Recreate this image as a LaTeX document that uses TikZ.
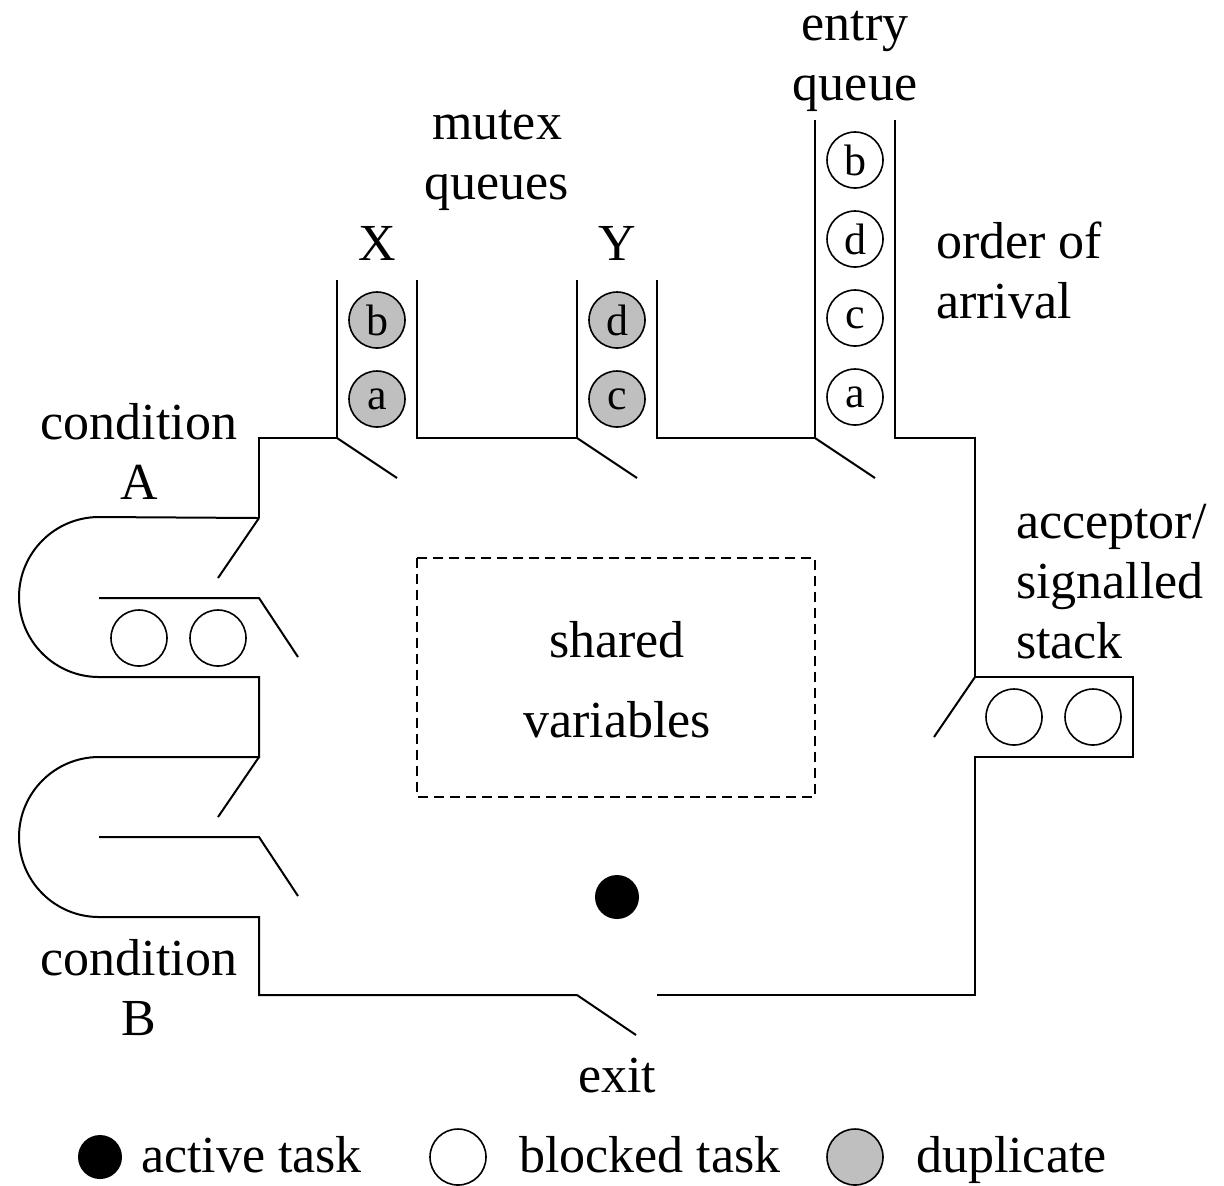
\documentclass[tikz,border=0pt]{standalone}
\usepackage{fontspec}
\setmainfont{Liberation Serif}
\usetikzlibrary{positioning}

\tikzset{
  task/.style={circle, draw, line width=0.8pt, minimum size=28pt, inner sep=0pt,
    font=\fontsize{22}{22}\selectfont},
  dup/.style={task, fill=black!25},
  active/.style={circle, fill=black, minimum size=22pt, inner sep=0pt},
  lbl/.style={font=\fontsize{26}{30}\selectfont, align=center, inner sep=0pt},
  lblw/.style={lbl, align=left, anchor=base west},
}

\begin{document}
\begin{tikzpicture}[x=0.5pt, y=-0.5pt, line width=1pt]
\useasboundingbox (0,0) rectangle (1224,1185);

% walls of the monitor
\draw (259,518) -- (259,438) -- (337,438) -- (337,280);
\draw (417,280) -- (417,438) -- (577,438) -- (577,280);
\draw (657,280) -- (657,438) -- (815,438) -- (815,120);
\draw (895,120) -- (895,438) -- (975,438) -- (975,677) -- (1133,677)
  -- (1133,757) -- (975,757) -- (975,995) -- (657,995);
\draw (577,995) -- (259,995) -- (259,917) -- (99,917)
  arc[start angle=90, end angle=270, radius=80] -- (259,757) -- (259,677)
  -- (99,677) arc[start angle=90, end angle=270, radius=80] -- (259,518);
\draw (99,598) -- (259,598) -- (298,657);
\draw (99,837) -- (259,837) -- (298,896);

% doors
\draw (259,518) -- (218,578);
\draw (259,757) -- (218,817);
\foreach \x in {337,577,815} {
  \draw (\x,438) -- ++(60,40);
}
\draw (975,677) -- (934,737);
\draw (577,995) -- (636,1035);

% shared variables
\draw[dashed, dash pattern=on 5pt off 3pt] (417,558) rectangle (815,797);
\node[lbl, anchor=base, font=\fontsize{26}{40}\selectfont] (shared) at (617,737) {shared\\variables};

% queues
\node[dup] (xb) at (377,320) {b};
\node[dup] (xa) at (377,399) {a};
\node[dup] (yd) at (617,320) {d};
\node[dup] (yc) at (617,399) {c};
\foreach \y/\t in {160/b, 239/d, 318/c, 397/a} {
  \node[task] (e\t) at (855,\y) {\t};
}
\foreach \x/\n in {139/1, 218/2} {
  \node[task] (ca\n) at (\x,638) {};
}
\foreach \x/\n in {1014/1, 1093/2} {
  \node[task] (as\n) at (\x,717) {};
}
\node[active] (run) at (617,897) {};

% labels
\node[lbl, anchor=base] (entry) at (855,100) {entry\\queue};
\node[lbl, anchor=base] (mutex) at (497,199) {mutex\\queues};
\node[lbl, anchor=base] (qx) at (377,260) {X};
\node[lbl, anchor=base] (qy) at (617,260) {Y};
\node[lblw] (order) at (935,318) {order of\\arrival};
\node[lbl, anchor=base] (conda) at (139,499) {condition\\A};
\node[lbl, anchor=base] (condb) at (139,1035) {condition\\B};
\node[lblw] (accept) at (1015,658) {acceptor/\\signalled\\stack};
\node[lbl, anchor=base] (exit) at (617,1092) {exit};

% legend
\node[active] (kact) at (100,1157) {};
\node[lblw] (tact) at (140,1172) {active task};
\node[task] (kblk) at (458,1157) {};
\node[lblw] (tblk) at (518,1172) {blocked task};
\node[dup] (kdup) at (855,1157) {};
\node[lblw] (tdup) at (915,1172) {duplicate};
\end{tikzpicture}
\end{document}
